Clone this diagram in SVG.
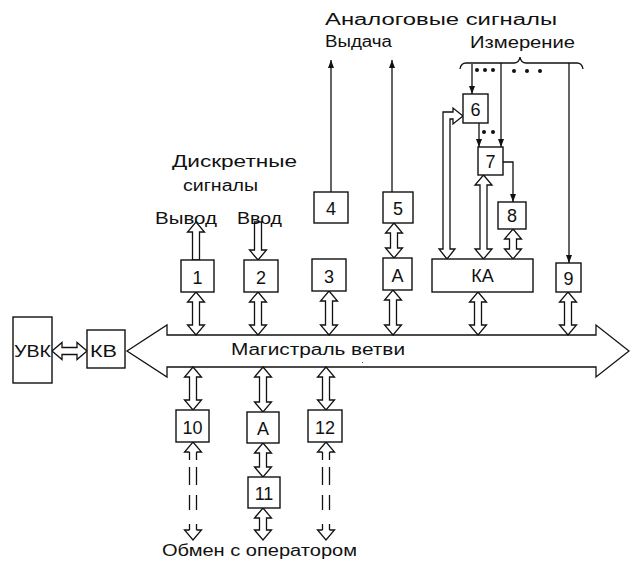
<svg xmlns="http://www.w3.org/2000/svg" width="630" height="565" viewBox="0 0 630 565">
<style>
.b{fill:#fff;stroke:#111;stroke-width:1.4}
.a{fill:#fff;stroke:#111;stroke-width:1.3;stroke-linejoin:miter}
.l{fill:none;stroke:#111;stroke-width:1.3}
.d{fill:none;stroke:#111;stroke-width:1.3;stroke-dasharray:8 7 18 10 15 14}
.t{font-family:"Liberation Sans",Arial,sans-serif;font-size:16px;fill:#111}
.n{font-family:"Liberation Sans",Arial,sans-serif;font-size:18px;fill:#111;text-anchor:middle}
</style>
<defs>
<marker id="ah" viewBox="0 0 8 8" refX="8" refY="4" markerWidth="8" markerHeight="8" markerUnits="userSpaceOnUse" orient="auto"><path d="M0,1 L8,4 L0,7 z" fill="#111"/></marker>
</defs>
<g id="connectors">
<polygon class="a" points="127,351 167,325 167,335 596,335 596,325 629,351 596,377 596,367 167,367 167,377"/>
<rect x="362" y="362" width="1" height="1" fill="#555"/>
<path class="a" d="M52,351 l10,-8.5 v5 h15 v-5 l10,8.5 l-10,8.5 v-5 h-15 v5 z"/>
<path class="a" d="M196,222 l8.5,10 h-5 v28 h-7 v-28 h-5 z"/>
<path class="a" d="M258,260 l8.5,-10 h-5 v-28 h-7 v28 h-5 z"/>
<path class="a" d="M196,292 l8.5,10 h-5 v23 h5 l-8.5,10 l-8.5,-10 h5 v-23 h-5 z"/>
<path class="a" d="M258,292 l8.5,10 h-5 v23 h5 l-8.5,10 l-8.5,-10 h5 v-23 h-5 z"/>
<path class="a" d="M329,291 l8.5,10 h-5 v24 h5 l-8.5,10 l-8.5,-10 h5 v-24 h-5 z"/>
<path class="a" d="M393,290 l8.5,10 h-5 v25 h5 l-8.5,10 l-8.5,-10 h5 v-25 h-5 z"/>
<path class="a" d="M394,223 l8.5,10 h-5 v15 h5 l-8.5,10 l-8.5,-10 h5 v-15 h-5 z"/>
<path class="a" d="M478,292 l8.5,10 h-5 v23 h5 l-8.5,10 l-8.5,-10 h5 v-23 h-5 z"/>
<path class="a" d="M568,292 l8.5,10 h-5 v23 h5 l-8.5,10 l-8.5,-10 h5 v-23 h-5 z"/>
<path class="a" d="M513,229 l8.5,10 h-5 v10 h5 l-8.5,10 l-8.5,-10 h5 v-10 h-5 z"/>
<path class="a" d="M483.5,175 l8.5,10 h-5 v64 h5 l-8.5,10 l-8.5,-10 h5 v-64 h-5 z"/>
<path class="a" d="M193,367 l8.5,10 h-5 v23 h5 l-8.5,10 l-8.5,-10 h5 v-23 h-5 z"/>
<path class="a" d="M263,367 l8.5,10 h-5 v25 h5 l-8.5,10 l-8.5,-10 h5 v-25 h-5 z"/>
<path class="a" d="M326,367 l8.5,10 h-5 v23 h5 l-8.5,10 l-8.5,-10 h5 v-23 h-5 z"/>
<path class="a" d="M263,443 l8.5,10 h-5 v14 h5 l-8.5,10 l-8.5,-10 h5 v-14 h-5 z"/>
<path class="a" d="M263,508 l8.5,10 h-5 v12 h5 l-8.5,10 l-8.5,-10 h5 v-12 h-5 z"/>
<path class="a" d="M447,259 L439,249 L443,249 L443,112 L453,112 L453,108 L463,116 L453,124 L453,119 L450,119 L450,249 L455,249 Z"/>
<path class="l" d="M189.5,452 h-5 l8.5,-10 l8.5,10 h-5"/>
<path class="d" d="M189.5,452 V530 M196.5,452 V530"/>
<path class="l" d="M189.5,530 h-5 l8.5,10 l8.5,-10 h-5"/>
<path class="l" d="M322.5,452 h-5 l8.5,-10 l8.5,10 h-5"/>
<path class="d" d="M322.5,452 V530 M329.5,452 V530"/>
<path class="l" d="M322.5,530 h-5 l8.5,10 l8.5,-10 h-5"/>
<path class="l" d="M331,192 V60" marker-end="url(#ah)"/>
<path class="l" d="M392,192 V60" marker-end="url(#ah)"/>
<path class="l" d="M460,69 Q461,63 466,63 L514,63 Q519,63 520,57 Q521,63 526,63 L577,63 Q582,63 583,69"/>
<path class="l" d="M472,64 V94" marker-end="url(#ah)"/>
<path class="l" d="M501,63 V147" marker-end="url(#ah)"/>
<path class="l" d="M569,63 V263" marker-end="url(#ah)"/>
<path class="l" d="M479,123 V147" marker-end="url(#ah)"/>
<path class="l" d="M503,162 H513 V202" marker-end="url(#ah)"/>
<g fill="#111"><circle cx="477" cy="70" r="2"/><circle cx="485" cy="70" r="2"/><circle cx="493" cy="70" r="2"/><circle cx="514" cy="71" r="2"/><circle cx="527" cy="71" r="2"/><circle cx="540" cy="71" r="2"/><circle cx="484" cy="132" r="2"/><circle cx="493" cy="132" r="2"/></g>
</g>
<g id="uvk"><rect class="b" x="13" y="317" width="39" height="66"/><text class="t" x="14" y="357" textLength="37" lengthAdjust="spacingAndGlyphs">УВК</text></g>
<g id="kv"><rect class="b" x="87" y="330" width="38" height="38"/><text class="t" x="90" y="357" textLength="27" lengthAdjust="spacingAndGlyphs">КВ</text></g>
<g id="n1"><rect class="b" x="181" y="260" width="33" height="32"/><text class="n" x="197.5" y="284">1</text></g>
<g id="n2"><rect class="b" x="244" y="260" width="34" height="32"/><text class="n" x="261" y="284">2</text></g>
<g id="n3"><rect class="b" x="312" y="259" width="34" height="32"/><text class="n" x="329" y="283">3</text></g>
<g id="nA1"><rect class="b" x="383" y="258" width="29" height="32"/><text class="n" x="397.5" y="282">A</text></g>
<g id="n4"><rect class="b" x="314" y="192" width="34" height="31"/><text class="n" x="331" y="215">4</text></g>
<g id="n5"><rect class="b" x="383" y="192" width="30" height="31"/><text class="n" x="398" y="215">5</text></g>
<g id="nKA"><rect class="b" x="432" y="259" width="101" height="33"/><text class="n" x="482.5" y="282">КА</text></g>
<g id="n9"><rect class="b" x="556" y="263" width="25" height="29"/><text class="n" x="568.5" y="285">9</text></g>
<g id="n8"><rect class="b" x="498" y="202" width="28" height="27"/><text class="n" x="512" y="222">8</text></g>
<g id="n7"><rect class="b" x="478" y="147" width="25" height="28"/><text class="n" x="490.5" y="168">7</text></g>
<g id="n6"><rect class="b" x="463" y="94" width="25" height="29"/><text class="n" x="475.5" y="116">6</text></g>
<g id="n10"><rect class="b" x="176" y="410" width="33" height="32"/><text class="n" x="192.5" y="434">10</text></g>
<g id="nA2"><rect class="b" x="247" y="412" width="32" height="31"/><text class="n" x="263" y="435">A</text></g>
<g id="n12"><rect class="b" x="308" y="410" width="34" height="32"/><text class="n" x="325" y="434">12</text></g>
<g id="n11"><rect class="b" x="248" y="477" width="32" height="31"/><text class="n" x="264" y="500">11</text></g>
<g id="labels">
<text class="t" x="325" y="25" textLength="232" lengthAdjust="spacingAndGlyphs">Аналоговые сигналы</text>
<text class="t" x="325" y="47" textLength="67" lengthAdjust="spacingAndGlyphs">Выдача</text>
<text class="t" x="470" y="48" textLength="105" lengthAdjust="spacingAndGlyphs">Измерение</text>
<text class="t" x="172" y="167" textLength="125" lengthAdjust="spacingAndGlyphs">Дискретные</text>
<text class="t" x="183" y="191" textLength="75" lengthAdjust="spacingAndGlyphs">сигналы</text>
<text class="t" x="155" y="224" textLength="62" lengthAdjust="spacingAndGlyphs">Вывод</text>
<text class="t" x="237" y="224" textLength="45" lengthAdjust="spacingAndGlyphs">Ввод</text>
<text class="t" x="231" y="355" textLength="174" lengthAdjust="spacingAndGlyphs">Магистраль ветви</text>
<text class="t" x="162" y="556" textLength="195" lengthAdjust="spacingAndGlyphs">Обмен с оператором</text>
</g>
</svg>
